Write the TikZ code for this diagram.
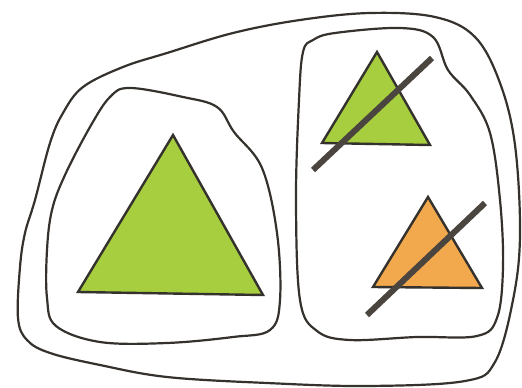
\documentclass[tikz,border=0pt]{standalone}
\begin{document}
\begin{tikzpicture}[x=1pt,y=-1pt,
  blob/.style={draw=outline,line width=2.2pt,line join=round},
  tri/.style={draw=outline,line width=2.4pt,line join=miter},
  slash/.style={draw=slashc,line width=6pt}]
\definecolor{outline}{HTML}{35322E}
\definecolor{slashc}{HTML}{4B4540}
\definecolor{greenf}{HTML}{A6CE3E}
\definecolor{orangef}{HTML}{F2A84C}
\useasboundingbox (0,0) rectangle (522,388);
\fill[white] (0,0) rectangle (522,388);
% outer blob
\draw[blob] plot[smooth cycle,tension=0.6] coordinates {
 (18,318) (20,267) (25,233) (35,200) (50,143) (63,113) (83,87) (123,67)
 (167,53) (233,33) (300,20) (370,13)
 (435,17) (475,37) (500,83) (515,145) (520,235) (513,300) (495,362)
 (465,381) (367,386) (267,383) (167,377) (100,365) (50,353) (27,340)};
% left inner blob
\draw[blob] plot[smooth cycle,tension=0.6] coordinates {
 (130,88) (110,97) (90,127) (65,175) (52,210) (47,250) (47,298) (56,326)
 (100,342) (167,343) (233,337) (270,330) (280,300) (277,233)
 (262,168) (234,132) (217,107) (183,97)};
% right inner blob
\draw[blob] plot[smooth cycle,tension=0.6] coordinates {
 (313,40) (335,33) (400,28) (433,37) (448,70) (470,95) (490,133)
 (500,200) (503,267) (497,318) (477,336) (417,337) (350,340)
 (317,331) (300,300) (296,200) (299,100) (303,52)};
% triangles
\path[tri,fill=greenf] (173,135) -- (78,292) -- (263,295) -- cycle;
\path[tri,fill=greenf] (377,52) -- (322,143) -- (430,145) -- cycle;
\path[tri,fill=orangef] (428,197) -- (373,287) -- (482,288) -- cycle;
% slashes
\draw[slash] (313,170) -- (432,58);
\draw[slash] (367,315) -- (485,203);
\end{tikzpicture}
\end{document}
